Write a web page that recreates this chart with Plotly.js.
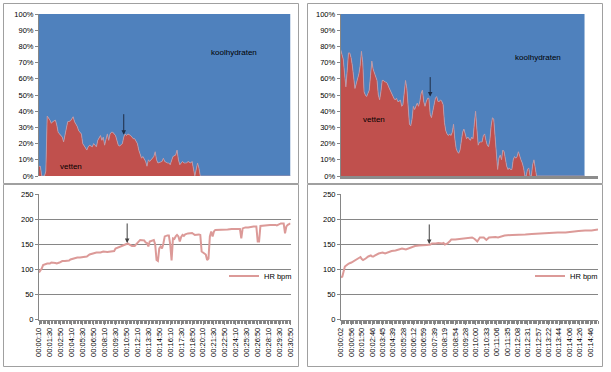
<!DOCTYPE html>
<html>
<head>
<meta charset="utf-8">
<script src="https://cdn.plot.ly/plotly-3.0.1.min.js"></script>
<style>html,body{margin:0;padding:0;background:#fff;}#c{width:611px;height:372px;}</style>
</head>
<body>
<div id="c"></div>
<script>
// ---------- DATA ----------
// Left test: 10-second samples, tick labels every 80 s
const lblL = ['00:00:10','00:01:30','00:02:50','00:04:10','00:05:30','00:06:50','00:08:10','00:09:30','00:10:50','00:12:10','00:13:30','00:14:50','00:16:10','00:17:30','00:18:50','00:20:10','00:21:30','00:22:50','00:24:10','00:25:30','00:26:50','00:28:10','00:29:30','00:30:50'];

// fat share (%) left, time in seconds
const fatSecL = [10,20,30,40,50,60,70,90,100,110,130,140,150,160,180,190,200,210,220,240,250,260,270,290,300,310,320,330,350,360,370,380,400,410,420,430,440,460,470,480,490,510,520,530,540,550,570,580,590,600,620,630,640,650,660,680,690,700,710,730,740,750,760,770,790,800,810,820,840,850,860,870,880,900,910,920,930,950,960,970,980,990,1010,1020,1030,1040,1060,1070,1080,1090,1100,1120,1130,1140,1150,1170,1180,1190,1850];
const fatPctL = [6,6,0,0,0,3,37,34.5,32.5,33.5,34.5,31.5,27,26,24,21,25,29,33.5,34,35.5,36.6,33.5,30.5,28,27,26,20,17,16,18,19,18,20,19,18,22,25,22,24,19,26,22,26,27,27,25,21,19,18.5,20,24,26,25,26,25,24,23,23,20,16,13,11,12,9,6,10,9,11,12,15,10,8,9,9,11,9,8,8,7,10,12,13,16,10,7,9,8,8,8,9,8,9,4,0,8,5,0,0];

// heart rate left
const hrSecL = [10,20,30,40,70,90,100,130,140,160,180,200,230,240,260,290,310,340,360,380,410,430,460,480,510,530,560,570,590,620,640,660,670,690,710,730,750,780,790,800,810,820,840,850,860,870,880,890,900,910,920,930,950,960,970,980,990,1000,1010,1020,1030,1040,1050,1060,1070,1080,1100,1130,1140,1150,1180,1190,1200,1220,1230,1240,1250,1260,1270,1280,1290,1300,1320,1350,1390,1420,1460,1480,1490,1500,1520,1540,1580,1600,1610,1620,1630,1670,1700,1740,1750,1780,1800,1810,1820,1830,1850];
const hrL = [94,97,102,109,112,112,114,113,112,114,117,117,118,120,122,124,124,126,126,130,132,134,134,136,135,136,137,142,144,147,150,152,150,147,147,152,159,158,154,153,146,156,159,159,150,119,117,142,146,142,152,166,168,168,150,118,162,161,166,169,166,156,165,169,167,170,172,173,171,169,170,169,136,132,130,119,122,166,176,166,176,179,179,179,180,181,182,181,162,182,184,184,186,186,156,156,187,189,189,189,188,192,192,172,186,189,192];

// Right test: breath-by-breath samples (index), tick labels every 8 samples
const lblR = ['00:00:02','00:00:56','00:01:50','00:02:46','00:03:45','00:04:39','00:05:28','00:06:12','00:06:59','00:07:39','00:08:19','00:08:54','00:09:28','00:10:00','00:10:33','00:11:06','00:11:35','00:12:08','00:12:31','00:12:57','00:13:22','00:13:44','00:14:06','00:14:26','00:14:46'];
const fatR = [78,74,72,63,55,65,76,76,73,68,59,54,57,60,63,68,77,70,52,50,
  49,51,53,62,71,66,64,62,59,50,47,52,59,59,58,58,57,55,53,51,
  49,48,47,48,46,46,47,43,44,50,59,54,39,32,31,35,43,41,43,45,
  43,46,51,53,46,43,46,48,48,38,36,40,44,48,49,46,46,47,46,44,
  33,28,26,25,26,25,27,32,23,17,15,14,16,21,27,29,26,23,24,23,
  22,24,23,32,40,29,19,21,21,21,25,26,22,19,18,22,31,36,35,23,
  13,4,11,13,10,16,15,10,6,4,5,4,4,10,12,11,12,15,12,10,
  8,5,0,0,4,5,0,0,7,10,5,0,0,0,0,0,0,0,0,0,
  0,0,0,0,0,0,0,0,0,0,0,0,0,0,0,0,0,0,0,0,
  0,0,0,0,0,0,0,0,0];
const hrIdxR = [0,1,2,3,5,6,8,11,14,15,16,17,19,21,23,24,25,26,29,32,34,37,39,42,44,47,50,52,55,57,60,62,66,69,70,73,75,78,79,80,82,84,85,88,91,93,96,98,101,103,105,106,107,110,112,114,116,119,121,124,126,132,137,142,147,152,157,162,167,173,178,183,188,193,198];
const hrR = [84,86,96,106,110,112,114,118,122,125,121,119,122,126,128,126,126,128,132,134,132,136,137,138,140,142,140,142,145,147,148,148,149,150,152,152,153,152,153,150,152,157,160,160,161,162,162,164,164,161,156,160,164,164,159,164,165,165,164,167,168,169,169,170,171,172,172,173,174,174,176,177,178,178,180];

// ---------- HELPERS ----------
const W = 611, H = 372;
const toSec = s => { const p = s.split(':').map(Number); return p[0]*3600 + p[1]*60 + p[2]; };
const fx = p => p / W, fy = p => 1 - p / H;
const idxR = fatR.map((_, i) => i);
const tickIdxR = lblR.map((_, i) => i * 8);

const RED = '#C0504D', BLUE = '#4F81BD', HRC = '#DC9A98', AX = '#868686';
const FONT = 'Liberation Sans, Arial, sans-serif';

const traces = [
  {x: fatSecL, y: fatPctL, xaxis: 'x', yaxis: 'y', type: 'scatter', mode: 'lines', stackgroup: 'L',
   fillcolor: RED, line: {color: '#C49AA6', width: 0.8}, showlegend: false, name: 'vetten'},
  {x: fatSecL, y: fatPctL.map(v => 100 - v), xaxis: 'x', yaxis: 'y', type: 'scatter', mode: 'lines', stackgroup: 'L',
   fillcolor: BLUE, line: {color: BLUE, width: 0}, showlegend: false, name: 'koolhydraten'},
  {x: hrSecL, y: hrL, xaxis: 'x2', yaxis: 'y2', type: 'scatter', mode: 'lines',
   line: {color: HRC, width: 2}, name: 'HR bpm', legend: 'legend'},
  {x: idxR, y: fatR, xaxis: 'x3', yaxis: 'y3', type: 'scatter', mode: 'lines', stackgroup: 'R',
   fillcolor: RED, line: {color: '#C49AA6', width: 0.8}, showlegend: false, name: 'vetten'},
  {x: idxR, y: fatR.map(v => 100 - v), xaxis: 'x3', yaxis: 'y3', type: 'scatter', mode: 'lines', stackgroup: 'R',
   fillcolor: BLUE, line: {color: BLUE, width: 0}, showlegend: false, name: 'koolhydraten'},
  {x: hrIdxR, y: hrR, xaxis: 'x4', yaxis: 'y4', type: 'scatter', mode: 'lines',
   line: {color: HRC, width: 2}, name: 'HR bpm', legend: 'legend2'}
];

const tf = {family: FONT, size: 7.5, color: '#000'};
const pctY = (dom) => ({domain: dom, range: [0, 100], dtick: 10, ticksuffix: '%', ticks: 'outside', ticklen: 3,
  tickcolor: AX, showline: true, linecolor: AX, linewidth: 1, showgrid: false, zeroline: false, tickfont: tf, fixedrange: true});
const hrY = (dom) => ({domain: dom, range: [0, 250], dtick: 50, ticks: 'outside', ticklen: 3,
  tickcolor: AX, showline: true, linecolor: AX, linewidth: 1, showgrid: true, gridcolor: AX, gridwidth: 1,
  zeroline: false, tickfont: tf});

const topDom = [fy(176), fy(14)];
const botDom = [fy(319.7), fy(194.3)];
const xtf = {family: FONT, size: 7.5, color: '#000'};

const layout = {
  width: W, height: H, margin: {l: 0, r: 0, t: 0, b: 0},
  paper_bgcolor: '#fff', plot_bgcolor: '#fff',
  font: {family: FONT, size: 8, color: '#000'},
  xaxis: {domain: [fx(39), fx(290.5)], anchor: 'y', range: [10, 1850], showticklabels: false, ticks: '',
          showgrid: false, zeroline: false, showline: false},
  yaxis: Object.assign(pctY(topDom), {anchor: 'x'}),
  xaxis2: {domain: [fx(39), fx(290.5)], anchor: 'y2', range: [10, 1850],
           tickmode: 'array', tickvals: lblL.map(toSec), ticktext: lblL, tickangle: -90,
           ticks: 'outside', ticklen: 4, tickcolor: AX, showline: true, linecolor: AX, linewidth: 1,
           showgrid: false, zeroline: false, tickfont: xtf,
           minor: {tickmode: 'linear', tick0: 10, dtick: 10, ticks: 'outside', ticklen: 3, tickcolor: AX, showgrid: false}},
  yaxis2: Object.assign(hrY(botDom), {anchor: 'x2'}),
  xaxis3: {domain: [fx(340.7), fx(597.5)], anchor: 'y3', range: [0, 198], showticklabels: false, ticks: '',
           showgrid: false, zeroline: false, showline: true, linecolor: '#8C8C8C', linewidth: 3},
  yaxis3: Object.assign(pctY(topDom), {anchor: 'x3'}),
  xaxis4: {domain: [fx(341), fx(598)], anchor: 'y4', range: [0, 198],
           tickmode: 'array', tickvals: tickIdxR, ticktext: lblR, tickangle: -90,
           ticks: 'outside', ticklen: 4, tickcolor: AX, showline: true, linecolor: AX, linewidth: 1,
           showgrid: false, zeroline: false, tickfont: xtf,
           minor: {tickmode: 'linear', tick0: 0, dtick: 1, ticks: 'outside', ticklen: 3, tickcolor: AX, showgrid: false}},
  yaxis4: Object.assign(hrY(botDom), {anchor: 'x4'}),
  legend: {x: fx(224), y: fy(276), xanchor: 'left', yanchor: 'middle', bgcolor: 'rgba(0,0,0,0)',
           font: {family: FONT, size: 7.5, color: '#000'}, itemwidth: 30},
  legend2: {x: fx(530), y: fy(276), xanchor: 'left', yanchor: 'middle', bgcolor: 'rgba(0,0,0,0)',
           font: {family: FONT, size: 7.5, color: '#000'}, itemwidth: 30},
  showlegend: true,
  shapes: [
    {type: 'rect', xref: 'paper', yref: 'paper', x0: fx(3.5), x1: fx(298.5), y0: fy(183.5), y1: fy(3.5), line: {color: '#A0A0A0', width: 1}},
    {type: 'rect', xref: 'paper', yref: 'paper', x0: fx(3.5), x1: fx(298.5), y0: fy(366.5), y1: fy(184.5), line: {color: '#A0A0A0', width: 1}},
    {type: 'rect', xref: 'paper', yref: 'paper', x0: fx(307.5), x1: fx(602.5), y0: fy(183.5), y1: fy(3.5), line: {color: '#A0A0A0', width: 1}},
    {type: 'rect', xref: 'paper', yref: 'paper', x0: fx(307.5), x1: fx(602.5), y0: fy(366.5), y1: fy(184.5), line: {color: '#A0A0A0', width: 1}}
  ],
  annotations: [
    {xref: 'x', yref: 'y', x: 1440, y: 76.5, text: 'koolhydraten', showarrow: false, font: {family: FONT, size: 8, color: '#000'}},
    {xref: 'x', yref: 'y', x: 245, y: 6, text: 'vetten', showarrow: false, font: {family: FONT, size: 8, color: '#000'}},
    {xref: 'x3', yref: 'y3', x: 152, y: 73, text: 'koolhydraten', showarrow: false, font: {family: FONT, size: 8, color: '#000'}},
    {xref: 'x3', yref: 'y3', x: 25.6, y: 34.6, text: 'vetten', showarrow: false, font: {family: FONT, size: 8, color: '#000'}},
    {xref: 'x', yref: 'y', x: 630, y: 25.5, text: '', showarrow: true, ax: 0, ay: -22, arrowhead: 2, arrowsize: 0.9, arrowwidth: 1, arrowcolor: '#1F2D45', standoff: 0},
    {xref: 'x2', yref: 'y2', x: 655, y: 153, text: '', showarrow: true, ax: 0, ay: -21, arrowhead: 2, arrowsize: 0.9, arrowwidth: 1, arrowcolor: '#404040', standoff: 0},
    {xref: 'x3', yref: 'y3', x: 69, y: 49, text: '', showarrow: true, ax: 0, ay: -21, arrowhead: 2, arrowsize: 0.9, arrowwidth: 1, arrowcolor: '#1F2D45', standoff: 0},
    {xref: 'x4', yref: 'y4', x: 68, y: 151, text: '', showarrow: true, ax: 0, ay: -21, arrowhead: 2, arrowsize: 0.9, arrowwidth: 1, arrowcolor: '#404040', standoff: 0}
  ]
};

Plotly.newPlot('c', traces, layout, {staticPlot: true, displayModeBar: false});
</script>
</body>
</html>
